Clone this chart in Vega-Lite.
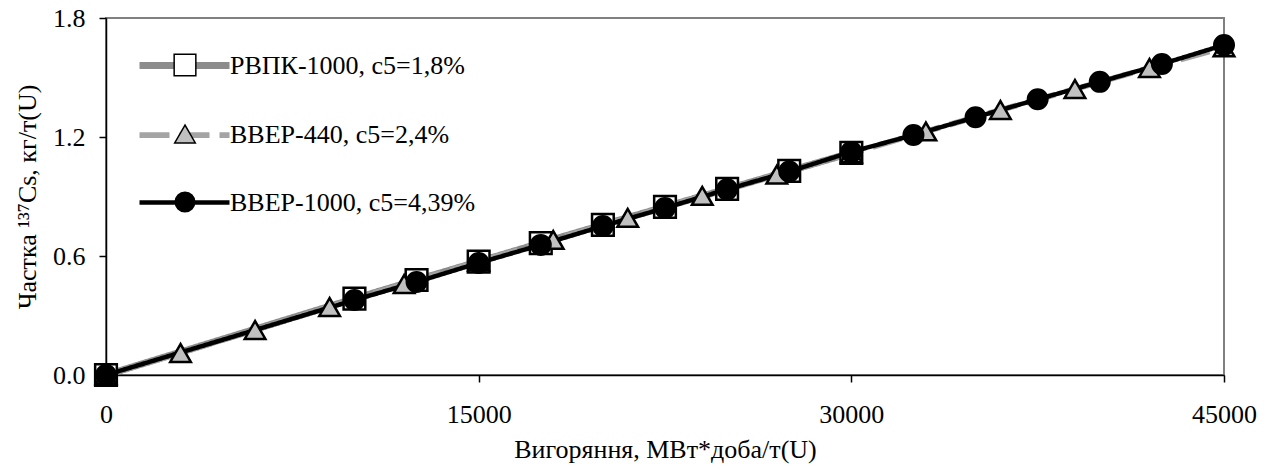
{
  "$schema": "https://vega.github.io/schema/vega-lite/v6.json",
  "width": 1118,
  "height": 357,
  "autosize": "none",
  "padding": {"left": 106, "top": 18, "right": 46, "bottom": 97},
  "background": "white",
  "config": {
    "view": {"stroke": "#808080", "strokeWidth": 2},
    "font": "Liberation Serif",
    "axis": {
      "grid": false,
      "labelFont": "Liberation Serif",
      "titleFont": "Liberation Serif",
      "labelFontSize": 26,
      "titleFontSize": 26,
      "titleFontWeight": "normal",
      "labelColor": "black",
      "titleColor": "black",
      "domainColor": "black",
      "domainWidth": 1.5,
      "tickColor": "black",
      "tickWidth": 1.5,
      "tickSize": 7
    },
    "legend": {
      "labelFont": "Liberation Serif",
      "labelFontSize": 26,
      "labelColor": "black",
      "labelLimit": 500,
      "padding": 0
    }
  },
  "data": {
    "values": [
      {"s": "РВПК-1000, с5=1,8%", "x": 0, "y": 0},
      {"s": "РВПК-1000, с5=1,8%", "x": 10000, "y": 0.385},
      {"s": "РВПК-1000, с5=1,8%", "x": 12500, "y": 0.479},
      {"s": "РВПК-1000, с5=1,8%", "x": 15000, "y": 0.572},
      {"s": "РВПК-1000, с5=1,8%", "x": 17500, "y": 0.665},
      {"s": "РВПК-1000, с5=1,8%", "x": 20000, "y": 0.757},
      {"s": "РВПК-1000, с5=1,8%", "x": 22500, "y": 0.848},
      {"s": "РВПК-1000, с5=1,8%", "x": 25000, "y": 0.938},
      {"s": "РВПК-1000, с5=1,8%", "x": 27500, "y": 1.029},
      {"s": "РВПК-1000, с5=1,8%", "x": 30000, "y": 1.12},
      {"s": "ВВЕР-440, с5=2,4%", "x": 0, "y": 0},
      {"s": "ВВЕР-440, с5=2,4%", "x": 3000, "y": 0.111},
      {"s": "ВВЕР-440, с5=2,4%", "x": 6000, "y": 0.227},
      {"s": "ВВЕР-440, с5=2,4%", "x": 9000, "y": 0.343},
      {"s": "ВВЕР-440, с5=2,4%", "x": 12000, "y": 0.459},
      {"s": "ВВЕР-440, с5=2,4%", "x": 15000, "y": 0.572},
      {"s": "ВВЕР-440, с5=2,4%", "x": 18000, "y": 0.681},
      {"s": "ВВЕР-440, с5=2,4%", "x": 21000, "y": 0.792},
      {"s": "ВВЕР-440, с5=2,4%", "x": 24000, "y": 0.903},
      {"s": "ВВЕР-440, с5=2,4%", "x": 27000, "y": 1.01},
      {"s": "ВВЕР-440, с5=2,4%", "x": 30000, "y": 1.118},
      {"s": "ВВЕР-440, с5=2,4%", "x": 33000, "y": 1.228},
      {"s": "ВВЕР-440, с5=2,4%", "x": 36000, "y": 1.336},
      {"s": "ВВЕР-440, с5=2,4%", "x": 39000, "y": 1.442},
      {"s": "ВВЕР-440, с5=2,4%", "x": 42000, "y": 1.548},
      {"s": "ВВЕР-440, с5=2,4%", "x": 45000, "y": 1.652},
      {"s": "ВВЕР-1000, с5=4,39%", "x": 0, "y": 0},
      {"s": "ВВЕР-1000, с5=4,39%", "x": 10000, "y": 0.378},
      {"s": "ВВЕР-1000, с5=4,39%", "x": 12500, "y": 0.469},
      {"s": "ВВЕР-1000, с5=4,39%", "x": 15000, "y": 0.565},
      {"s": "ВВЕР-1000, с5=4,39%", "x": 17500, "y": 0.656},
      {"s": "ВВЕР-1000, с5=4,39%", "x": 20000, "y": 0.751},
      {"s": "ВВЕР-1000, с5=4,39%", "x": 22500, "y": 0.842},
      {"s": "ВВЕР-1000, с5=4,39%", "x": 25000, "y": 0.936},
      {"s": "ВВЕР-1000, с5=4,39%", "x": 27500, "y": 1.026},
      {"s": "ВВЕР-1000, с5=4,39%", "x": 30000, "y": 1.125},
      {"s": "ВВЕР-1000, с5=4,39%", "x": 32500, "y": 1.21},
      {"s": "ВВЕР-1000, с5=4,39%", "x": 35000, "y": 1.3},
      {"s": "ВВЕР-1000, с5=4,39%", "x": 37500, "y": 1.39},
      {"s": "ВВЕР-1000, с5=4,39%", "x": 40000, "y": 1.478},
      {"s": "ВВЕР-1000, с5=4,39%", "x": 42500, "y": 1.568},
      {"s": "ВВЕР-1000, с5=4,39%", "x": 45000, "y": 1.664}
    ]
  },
  "encoding": {
    "x": {
      "field": "x", "type": "quantitative",
      "scale": {"domain": [0, 45000], "nice": false, "zero": false},
      "axis": {"values": [0, 15000, 30000, 45000], "format": "d", "labelPadding": 19, "title": "Вигоряння, МВт*доба/т(U)", "titlePadding": 9, "labelFlush": false}
    },
    "y": {
      "field": "y", "type": "quantitative",
      "scale": {"domain": [0, 1.8], "nice": false},
      "axis": {"values": [0, 0.6, 1.2, 1.8], "format": ".1f", "labelPadding": 14, "title": "Частка ¹³⁷Cs, кг/т(U)", "titlePadding": 12}
    }
  },
  "layer": [
    {
      "mark": {"type": "line", "clip": false},
      "encoding": {
        "stroke": {
          "field": "s", "type": "nominal",
          "scale": {"domain": ["РВПК-1000, с5=1,8%", "ВВЕР-440, с5=2,4%", "ВВЕР-1000, с5=4,39%"], "range": ["#8c8c8c", "#a4a4a4", "#000000"]},
          "legend": {"orient": "none", "legendX": 30, "legendY": -1, "title": null, "symbolType": "stroke", "symbolSize": 8100, "labelOffset": -3, "rowPadding": 7}
        },
        "strokeWidth": {
          "field": "s", "type": "nominal",
          "scale": {"domain": ["РВПК-1000, с5=1,8%", "ВВЕР-440, с5=2,4%", "ВВЕР-1000, с5=4,39%"], "range": [7, 4.5, 2]},
          "legend": {"orient": "none", "legendX": 30, "legendY": -1, "title": null, "symbolType": "stroke", "symbolSize": 8100, "labelOffset": -3, "rowPadding": 7}
        },
        "strokeDash": {
          "field": "s", "type": "nominal",
          "scale": {"domain": ["РВПК-1000, с5=1,8%", "ВВЕР-440, с5=2,4%", "ВВЕР-1000, с5=4,39%"], "range": [[1, 0], [30, 10], [1, 0]]},
          "legend": {"orient": "none", "legendX": 30, "legendY": -1, "title": null, "symbolType": "stroke", "symbolSize": 8100, "labelOffset": -3, "rowPadding": 7}
        }
      }
    },
    {
      "mark": {"type": "point", "filled": true, "stroke": "black", "strokeWidth": 2.5, "opacity": 1, "clip": false},
      "encoding": {
        "shape": {
          "field": "s", "type": "nominal", "sort": "descending",
          "scale": {"range": ["square", "triangle-up", "circle"]},
          "legend": {"orient": "none", "legendX": 66, "legendY": 34, "title": null, "labelExpr": "''", "rowPadding": 42, "encode": {"symbols": {"update": {"size": {"signal": "indexof(datum.value, 'ВВЕР-1000') >= 0 ? 100 : 270"}}}}}
        },
        "fill": {
          "field": "s", "type": "nominal", "sort": "descending",
          "scale": {"range": ["white", "#c0c0c0", "black"]},
          "legend": {"orient": "none", "legendX": 66, "legendY": 34, "title": null, "labelExpr": "''", "rowPadding": 42, "encode": {"symbols": {"update": {"size": {"signal": "indexof(datum.value, 'ВВЕР-1000') >= 0 ? 100 : 270"}}}}}
        },
        "size": {
          "field": "s", "type": "nominal", "sort": "descending",
          "scale": {"range": [470, 380, 90]},
          "legend": {"orient": "none", "legendX": 66, "legendY": 34, "title": null, "labelExpr": "''", "rowPadding": 42, "encode": {"symbols": {"update": {"size": {"signal": "indexof(datum.value, 'ВВЕР-1000') >= 0 ? 100 : 270"}}}}}
        }
      }
    }
  ]
}
